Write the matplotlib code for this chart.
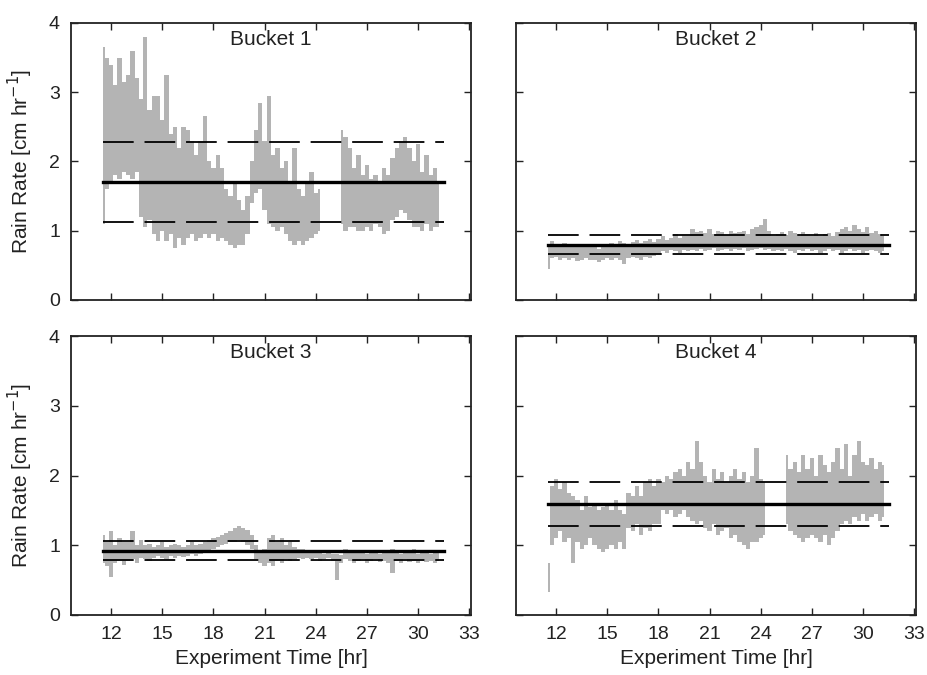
import numpy as np
import matplotlib
matplotlib.use('Agg')
import matplotlib.pyplot as plt

plt.rcParams['font.family'] = ['Liberation Sans', 'DejaVu Sans']

# sample times [hr], one low/high pair per sample
t0    = 11.5
dt    = 0.25
n_pts = 80
nan   = np.nan

b1_hi = [3.65, 3.5,
         3.4, 3.1, 3.5, 3.15, 3.25, 3.6, 3.2,
         2.9,
         3.8, 2.75, 2.95,
         2.95, 2.6, 3.25, 2.4,
         2.5, 2.2, 2.5, 2.45, 2.3, 2.1, 2.3,
         2.65,
         2.0, 1.9, 2.1, 1.9,
         1.6, 1.5, 1.7, 1.45, 1.3, 1.5,
         2.0, 2.45, 2.85,
         2.3, 2.95,
         2.1, 2.2, 1.9, 2.0,
         1.7, 2.2, 1.6, 1.5, 1.7, 1.85, 1.55, 1.6,
         nan, nan, nan, nan,
         2.45, 2.35, 2.2,
         1.9, 2.1, 1.8, 1.95, 1.75, 1.8, 1.7, 1.9, 1.8,
         2.05, 2.2, 2.3, 2.35, 2.2, 2.0,
         2.25, 1.85, 2.1, 1.8, 1.9, 1.7]
b1_lo = [1.1, 1.6,
         1.7, 1.8, 1.75, 1.85, 1.8, 1.75, 1.85,
         1.2,
         1.05, 1.15, 0.95,
         0.85, 1.0, 0.85, 0.95,
         0.75, 0.9, 0.8, 0.9, 0.95, 0.85, 0.9,
         0.95,
         0.9, 0.95, 0.85, 0.9,
         0.85, 0.8, 0.75, 0.8, 0.8, 0.95,
         1.4, 1.55, 1.6,
         1.3, 1.1,
         1.05, 1.0, 1.05, 0.95,
         0.85, 0.8, 0.85, 0.8, 0.85, 0.9, 0.95, 1.0,
         nan, nan, nan, nan,
         1.1, 1.0, 1.05,
         1.05, 1.0, 1.0, 1.05, 1.0, 1.1, 1.05, 0.95, 1.0,
         1.15, 1.2, 1.3, 1.25, 1.15, 1.05,
         1.05, 1.0, 1.1, 1.0, 1.05, 1.05]

b2_hi = [0.8, 0.85, 0.78, 0.8, 0.82, 0.78, 0.8, 0.76, 0.78, 0.8,
         0.76, 0.78, 0.74, 0.8, 0.78, 0.82, 0.8, 0.85, 0.82, 0.8, 0.84, 0.86, 0.82, 0.85, 0.88, 0.84,
         0.88, 0.92, 0.86, 0.9, 0.95, 0.9, 0.93, 0.92,
         1.02, 0.98, 1.0, 0.96, 1.02, 0.95, 1.0, 0.98, 0.94, 1.0, 0.96, 0.98, 1.0, 0.95, 1.02, 1.05,
         1.08, 1.17, 1.0, 0.92,
         0.95, 0.98, 0.94, 1.0, 0.96, 0.92, 0.98, 0.95, 0.93, 0.96, 0.92, 0.95, 0.97,
         0.92, 0.98, 1.02, 1.06, 1.0, 1.08, 1.02, 0.98, 1.05, 0.97, 1.0, 0.95, 0.92]
b2_lo = [0.45, 0.6, 0.62, 0.58, 0.6, 0.57, 0.6, 0.56, 0.58, 0.6,
         0.57, 0.58, 0.55, 0.58, 0.6, 0.57, 0.6, 0.58, 0.52, 0.6, 0.62, 0.6, 0.58, 0.62, 0.6, 0.64,
         0.66, 0.7, 0.68, 0.72, 0.7, 0.68, 0.72, 0.7,
         0.72, 0.7, 0.74, 0.7, 0.72, 0.75, 0.7, 0.72, 0.74, 0.7, 0.73, 0.72, 0.75, 0.7, 0.72, 0.74,
         0.75, 0.72, 0.74, 0.7,
         0.72, 0.7, 0.74, 0.7, 0.68, 0.72, 0.7, 0.74, 0.7, 0.72, 0.68, 0.7, 0.74,
         0.7, 0.72, 0.68, 0.7, 0.74, 0.7, 0.72, 0.68, 0.7, 0.72, 0.7, 0.68, 0.7]

b3_hi = [1.15, 1.05, 1.2, 1.0, 1.1, 1.05,
         1.05, 1.2, 1.0, 1.08, 1.0, 1.02, 0.98, 1.0, 1.05, 0.98,
         1.0, 1.02, 1.0, 0.98, 1.0, 1.05, 1.0, 1.02, 1.05, 1.08,
         1.1, 1.12, 1.15, 1.18, 1.2, 1.25, 1.27, 1.25, 1.22, 1.15,
         1.0, 0.9, 0.95,
         1.1, 1.15, 1.05, 1.1, 1.0, 1.05, 0.98, 0.95,
         0.95, 0.92, 0.9, 0.92, 0.9, 0.88, 0.9, 0.88,
         0.88, 0.86,
         0.95, 0.92, 0.9, 0.92, 0.9, 0.88, 0.92, 0.9, 0.88, 0.92, 0.9, 0.95,
         0.9, 0.88, 0.92, 0.9, 0.95, 0.88, 0.92, 0.9, 0.88, 0.92, 0.9]
b3_lo = [0.75, 0.7, 0.55, 0.75, 0.78, 0.72,
         0.78, 0.8, 0.75, 0.82, 0.8, 0.78, 0.82, 0.85, 0.82, 0.8,
         0.85, 0.82, 0.85, 0.83, 0.85, 0.88, 0.85, 0.88, 0.9, 0.92,
         0.95, 0.98, 1.0, 1.02, 1.05, 1.05, 1.08, 1.05, 1.0, 0.95,
         0.8, 0.75, 0.7,
         0.75, 0.7, 0.78, 0.75, 0.8, 0.78, 0.8, 0.82,
         0.8, 0.82, 0.8, 0.82, 0.78, 0.8, 0.82, 0.78,
         0.5, 0.75,
         0.8, 0.78, 0.75, 0.78, 0.8, 0.75, 0.78, 0.8, 0.76, 0.78, 0.75, 0.6,
         0.78, 0.75, 0.8, 0.76, 0.78, 0.75, 0.8, 0.76, 0.78, 0.75, 0.78]

b4_hi = [0.75, 1.85,
         1.95, 1.8, 1.9, 1.75, 1.7,
         1.65, 1.5, 1.7, 1.55, 1.6, 1.5,
         1.55, 1.6, 1.5, 1.65, 1.5, 1.45,
         1.75, 1.7, 1.85, 1.7, 1.9, 1.95, 1.85, 1.95,
         1.9, 2.0, 1.95, 2.05, 2.1, 2.0,
         2.2, 2.1, 2.5, 2.2,
         2.0, 1.9, 2.1, 1.95, 2.05, 1.9, 2.0, 2.1, 1.95, 2.05, 1.9, 2.0,
         2.4, 1.95, 1.9,
         nan, nan, nan, nan,
         2.3, 2.1, 2.2, 2.05, 2.3, 2.1, 2.25, 2.0, 2.3, 2.15, 2.05, 2.2,
         2.4, 2.1, 2.45, 2.0, 2.3, 2.5, 2.2, 2.15, 2.25, 2.1, 2.2, 2.15]
b4_lo = [0.33, 1.0,
         1.1, 1.2, 1.05, 1.1, 0.75,
         1.05, 0.95, 1.0, 1.1, 1.0, 0.95,
         0.9, 0.95, 1.0, 0.95, 1.05, 0.95,
         1.25, 1.2, 1.3, 1.15, 1.25, 1.2, 1.3, 1.3,
         1.5, 1.45, 1.5, 1.4, 1.45, 1.5,
         1.4, 1.35, 1.3, 1.35,
         1.25, 1.2, 1.3, 1.15, 1.2, 1.25, 1.1, 1.15, 1.05, 1.0, 0.95, 1.05,
         1.05, 1.1, 1.15,
         nan, nan, nan, nan,
         1.3, 1.2, 1.15, 1.1, 1.05, 1.1, 1.15, 1.1, 1.05, 1.15, 1.0, 1.1,
         1.2, 1.3, 1.35, 1.3, 1.4, 1.35, 1.45, 1.35, 1.4, 1.45, 1.35, 1.4]

titles  = ['Bucket 1', 'Bucket 2', 'Bucket 3', 'Bucket 4']
his     = [b1_hi, b2_hi, b3_hi, b4_hi]
los     = [b1_lo, b2_lo, b3_lo, b4_lo]
means   = [1.70, 0.80, 0.92, 1.59]
stds    = [0.58, 0.135, 0.135, 0.31]
t_end   = 31.5
xticks  = [12, 15, 18, 21, 24, 27, 30, 33]
yticks  = [0, 1, 2, 3, 4]

gray = '#b4b4b4'
ink  = '#222222'

fig = plt.figure(figsize=(9.28, 6.75), dpi=100)
boxes = [[0.0765, 0.5556, 0.431, 0.4104],
         [0.556, 0.5556, 0.431, 0.4104],
         [0.0765, 0.0889, 0.431, 0.4133],
         [0.556, 0.0889, 0.431, 0.4133]]

for k in range(4):
    ax = fig.add_axes(boxes[k])
    t = t0 + dt * np.arange(n_pts)
    lo = np.array(los[k])
    hi = np.array(his[k])
    # blocky band, one column per sample
    ax.fill_between(t, lo, hi, step='mid', color=gray, lw=0)

    m = means[k]
    s = stds[k]
    ax.plot([t0, t_end], [m, m], color='black', lw=2.4)
    ax.plot([t0, t_end], [m + s, m + s], color='black', lw=1.3, dashes=(17, 6))
    ax.plot([t0, t_end], [m - s, m - s], color='black', lw=1.3, dashes=(17, 6))

    ax.set_xlim(9.65, 33.1)
    ax.set_ylim(0, 4)
    ax.set_xticks(xticks)
    ax.set_yticks(yticks)
    ax.tick_params(direction='in', top=True, right=True, length=5,
                   width=1.0, labelsize=14, pad=8, colors=ink)
    for sp in ax.spines.values():
        sp.set_linewidth(1.3)
        sp.set_color(ink)
    ax.text(0.5, 0.975, titles[k], transform=ax.transAxes, ha='center',
            va='top', fontsize=15, color=ink)

    if k < 2:
        ax.set_xticklabels([])
    else:
        ax.set_xlabel('Experiment Time [hr]', fontsize=15, color=ink, labelpad=4)
    if k % 2 == 1:
        ax.set_yticklabels([])
    else:
        ax.set_ylabel('Rain Rate [cm hr$^{-1}$]', fontsize=15, color=ink, labelpad=10)

plt.savefig('out.png', dpi=100)
